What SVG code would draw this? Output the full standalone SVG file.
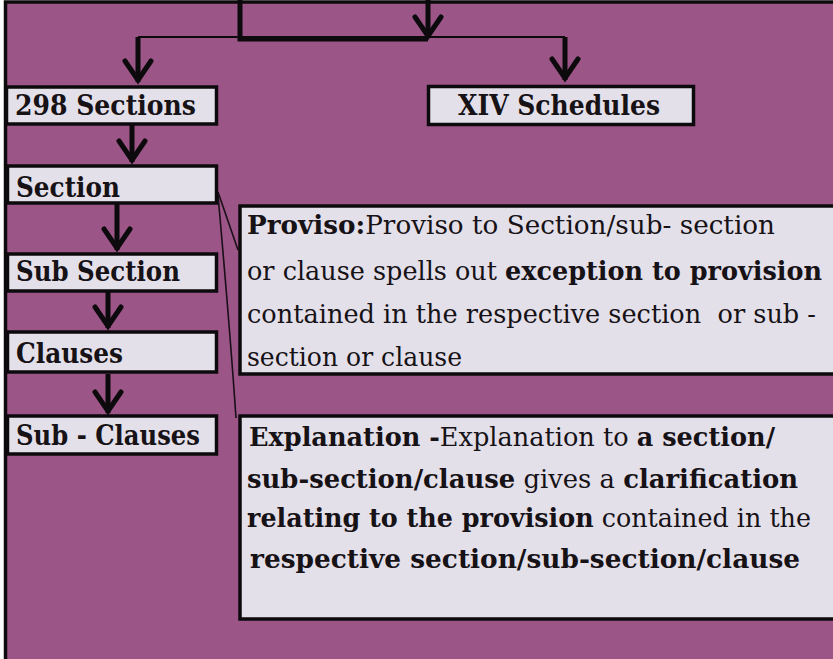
<svg xmlns="http://www.w3.org/2000/svg" width="833" height="659" viewBox="0 0 833 659">
<style>
.box{fill:#e4e0ea;stroke:#0d0a0d;stroke-width:3.5}
.lbl{font-family:"DejaVu Serif","Liberation Serif",serif;font-weight:bold;font-size:27px;fill:#161216}
.txt{font-family:"DejaVu Serif","Liberation Serif",serif;font-size:25.5px;fill:#161216}
.b{font-weight:bold}
.thick{stroke:#0d0a0d;stroke-width:5;fill:none}
.thin{stroke:#0d0a0d;stroke-width:2;fill:none}
.hair{stroke:#1a0f18;stroke-width:1.6;fill:none}
</style>
<defs>
<marker id="ah" markerUnits="userSpaceOnUse" viewBox="-30 -18 34 36" markerWidth="34" markerHeight="36" refX="0" refY="0" orient="auto" overflow="visible">
<path d="M-21,-13 L-2,0 L-21,13" fill="none" stroke="#0d0a0d" stroke-width="5" stroke-linecap="round"/>
</marker>
</defs>
<rect x="0" y="0" width="833" height="659" fill="#ffffff"/>
<rect id="frame" x="5.5" y="2" width="840" height="700" fill="#9c5587" stroke="#0d0a0d" stroke-width="3.5"/>
<g id="connectors">
<path class="thick" d="M240,0 V39 H428"/>
<path class="thick" d="M428,0 V38" marker-end="url(#ah)"/>
<path class="thin" d="M138,37 H565"/>
<path class="thick" d="M138,37 V82" marker-end="url(#ah)"/>
<path class="thick" d="M565,37 V80" marker-end="url(#ah)"/>
<path class="thick" d="M132,125 V162" marker-end="url(#ah)"/>
<path class="thick" d="M117,204 V250" marker-end="url(#ah)"/>
<path class="thick" d="M108,292 V328" marker-end="url(#ah)"/>
<path class="thick" d="M108,374 V413" marker-end="url(#ah)"/>
<path class="hair" d="M218,192 L238,250"/>
<path class="hair" d="M218,195 Q230,330 236,418"/>
</g>
<g id="n298">
<rect class="box" x="6.5" y="87" width="210" height="37"/>
<text class="lbl" x="15" y="115" textLength="181" lengthAdjust="spacingAndGlyphs">298 Sections</text>
</g>
<g id="nSchedules">
<rect class="box" x="428.5" y="86.5" width="265" height="38"/>
<text class="lbl" x="458" y="115" textLength="202" lengthAdjust="spacingAndGlyphs">XIV Schedules</text>
</g>
<g id="nSection">
<rect class="box" x="7.5" y="166" width="209" height="37"/>
<text class="lbl" x="16" y="197" textLength="104" lengthAdjust="spacingAndGlyphs">Section</text>
</g>
<g id="nSubSection">
<rect class="box" x="7.5" y="254" width="209" height="37"/>
<text class="lbl" x="16" y="281" textLength="164" lengthAdjust="spacingAndGlyphs">Sub Section</text>
</g>
<g id="nClauses">
<rect class="box" x="7.5" y="332" width="209" height="40"/>
<text class="lbl" x="16" y="363" textLength="107" lengthAdjust="spacingAndGlyphs">Clauses</text>
</g>
<g id="nSubClauses">
<rect class="box" x="7.5" y="416" width="209" height="38"/>
<text class="lbl" x="16" y="445" textLength="184" lengthAdjust="spacingAndGlyphs">Sub - Clauses</text>
</g>
<g id="nProviso">
<rect class="box" x="240" y="206" width="620" height="168"/>
<text class="txt" x="247" y="234" textLength="528" lengthAdjust="spacingAndGlyphs"><tspan class="b">Proviso:</tspan>Proviso to Section/sub- section</text>
<text class="txt" x="247" y="280" textLength="575" lengthAdjust="spacingAndGlyphs">or clause spells out <tspan class="b">exception to provision</tspan></text>
<text class="txt" x="247" y="323" textLength="569" lengthAdjust="spacingAndGlyphs" xml:space="preserve">contained in the respective section  or sub -</text>
<text class="txt" x="247" y="366" textLength="215" lengthAdjust="spacingAndGlyphs">section or clause</text>
</g>
<g id="nExplanation">
<rect class="box" x="240" y="416" width="620" height="203"/>
<text class="txt" x="249" y="446" textLength="526" lengthAdjust="spacingAndGlyphs"><tspan class="b">Explanation -</tspan>Explanation to <tspan class="b">a section/</tspan></text>
<text class="txt" x="247" y="488" textLength="551" lengthAdjust="spacingAndGlyphs"><tspan class="b">sub-section/clause</tspan> gives a <tspan class="b">clarification</tspan></text>
<text class="txt" x="247" y="527" textLength="564" lengthAdjust="spacingAndGlyphs"><tspan class="b">relating to the provision</tspan> contained in the</text>
<text class="txt b" x="250" y="568" textLength="550" lengthAdjust="spacingAndGlyphs">respective section/sub-section/clause</text>
</g>
</svg>
